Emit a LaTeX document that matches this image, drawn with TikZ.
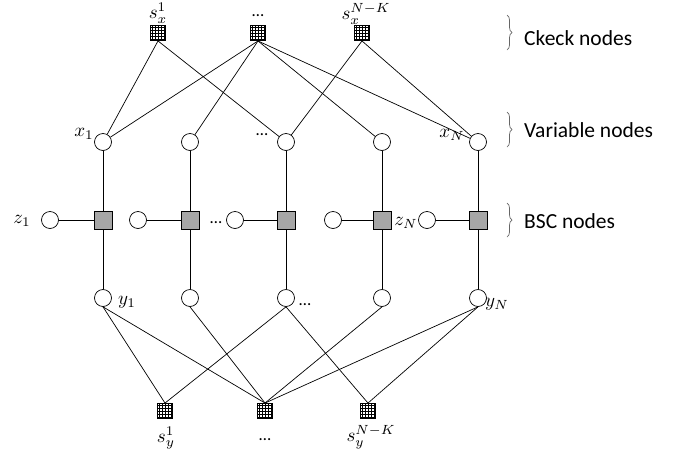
\documentclass[tikz,border=0pt]{standalone}
\usepackage[no-math]{fontspec}
\setmainfont{Carlito}
\usetikzlibrary{decorations.pathreplacing}
\newcommand\mlab[1]{\scalebox{1.9}{$#1$}}
\begin{document}
\begin{tikzpicture}[x=1pt,y=-1pt,
  every node/.style={inner sep=0pt},
  edge/.style={line width=0.7pt},
  chk/.style={rectangle,draw,line width=0.9pt,minimum size=15pt,fill=white,
    path picture={\foreach \i in {-6,-3,0,3,6} {
      \draw[line width=0.45pt] ([xshift=\i pt]path picture bounding box.north) -- ([xshift=\i pt]path picture bounding box.south);
      \draw[line width=0.45pt] ([yshift=\i pt]path picture bounding box.west) -- ([yshift=\i pt]path picture bounding box.east);}}},
  var/.style={circle,draw,line width=0.7pt,minimum size=17pt,fill=white},
  bsc/.style={rectangle,draw,line width=0.9pt,minimum size=18pt,fill=black!35},
  lab/.style={},
  dts/.style={font=\fontsize{17}{20}\selectfont},
  txt/.style={font=\fontsize{21.5}{24}\selectfont,anchor=west},
  brc/.style={decorate,decoration={brace,amplitude=5pt},draw=black!60,line width=0.7pt}
]
\useasboundingbox (0,0) rectangle (681,456);

% top check nodes
\node[chk] (c1) at (158,33) {};
\node[chk] (c2) at (258,33) {};
\node[chk] (c3) at (362,33) {};
% variable, BSC, z, y nodes
\foreach \n/\xx/\zx in {1/103/50,2/190/138,3/286/235,4/382/333,5/478/427} {
  \node[var] (x\n) at (\xx,142) {};
  \node[bsc] (b\n) at (\xx,220) {};
  \node[var] (z\n) at (\zx,220) {};
  \node[var] (y\n) at (\xx,298) {};
}
% bottom check nodes
\node[chk] (d1) at (165,411) {};
\node[chk] (d2) at (265,411) {};
\node[chk] (d3) at (368,411) {};

% vertical and BSC edges
\foreach \n in {1,...,5} {
  \draw[edge] (x\n) -- (b\n) -- (y\n);
  \draw[edge] (z\n) -- (b\n);
}
% top edges
\draw[edge] (c1.south) -- (x1);
\draw[edge] (c1.south) -- (x3);
\draw[edge] (c2.south) -- (x1);
\draw[edge] (c2.south) -- (x2);
\draw[edge] (c2.south) -- (x4);
\draw[edge] (c2.south) -- (x5);
\draw[edge] (c3.south) -- (x3);
\draw[edge] (c3.south) -- (x5);
% bottom edges
\draw[edge] (y1.south) -- (d1.north);
\draw[edge] (y1.south) -- (d2.north);
\draw[edge] (y2.south) -- (d2.north);
\draw[edge] (y3.south) -- (d1.north);
\draw[edge] (y3.south) -- (d3.north);
\draw[edge] (y4.south) -- (d2.north);
\draw[edge] (y5.south) -- (d2.north);
\draw[edge] (y5.south) -- (d3.north);

% labels
\node[lab] (ls1) at (158,13) {\mlab{s_x^1}};
\node[dts] (ls2) at (258,16) {…};
\node[lab] (ls3) at (366,14) {\mlab{s_x^{N-K}}};
\node[lab] (lx1) at (84,134) {\mlab{x_1}};
\node[dts] (lx3) at (262,135) {…};
\node[lab] (lx5) at (452,135) {\mlab{x_N}};
\node[lab] (lz1) at (22,221) {\mlab{z_1}};
\node[dts] (lz3) at (216,223) {…};
\node[lab] (lz5) at (406,223) {\mlab{z_N}};
\node[lab] (ly1) at (127,302) {\mlab{y_1}};
\node[dts] (ly3) at (305,305) {…};
\node[lab] (ly5) at (497,304) {\mlab{y_N}};
\node[lab] (ld1) at (166,438) {\mlab{s_y^1}};
\node[dts] (ld2) at (265,440) {…};
\node[lab] (ld3) at (371,437) {\mlab{s_y^{N-K}}};

% braces and texts
\draw[brc] (507,15) -- (507,50);
\draw[brc] (507,112) -- (507,147);
\draw[brc] (507,203) -- (507,237);
\node[txt] (t1) at (524,38) {Ckeck nodes};
\node[txt] (t2) at (524,130) {Variable nodes};
\node[txt] (t3) at (524,221) {BSC nodes};
\end{tikzpicture}
\end{document}
